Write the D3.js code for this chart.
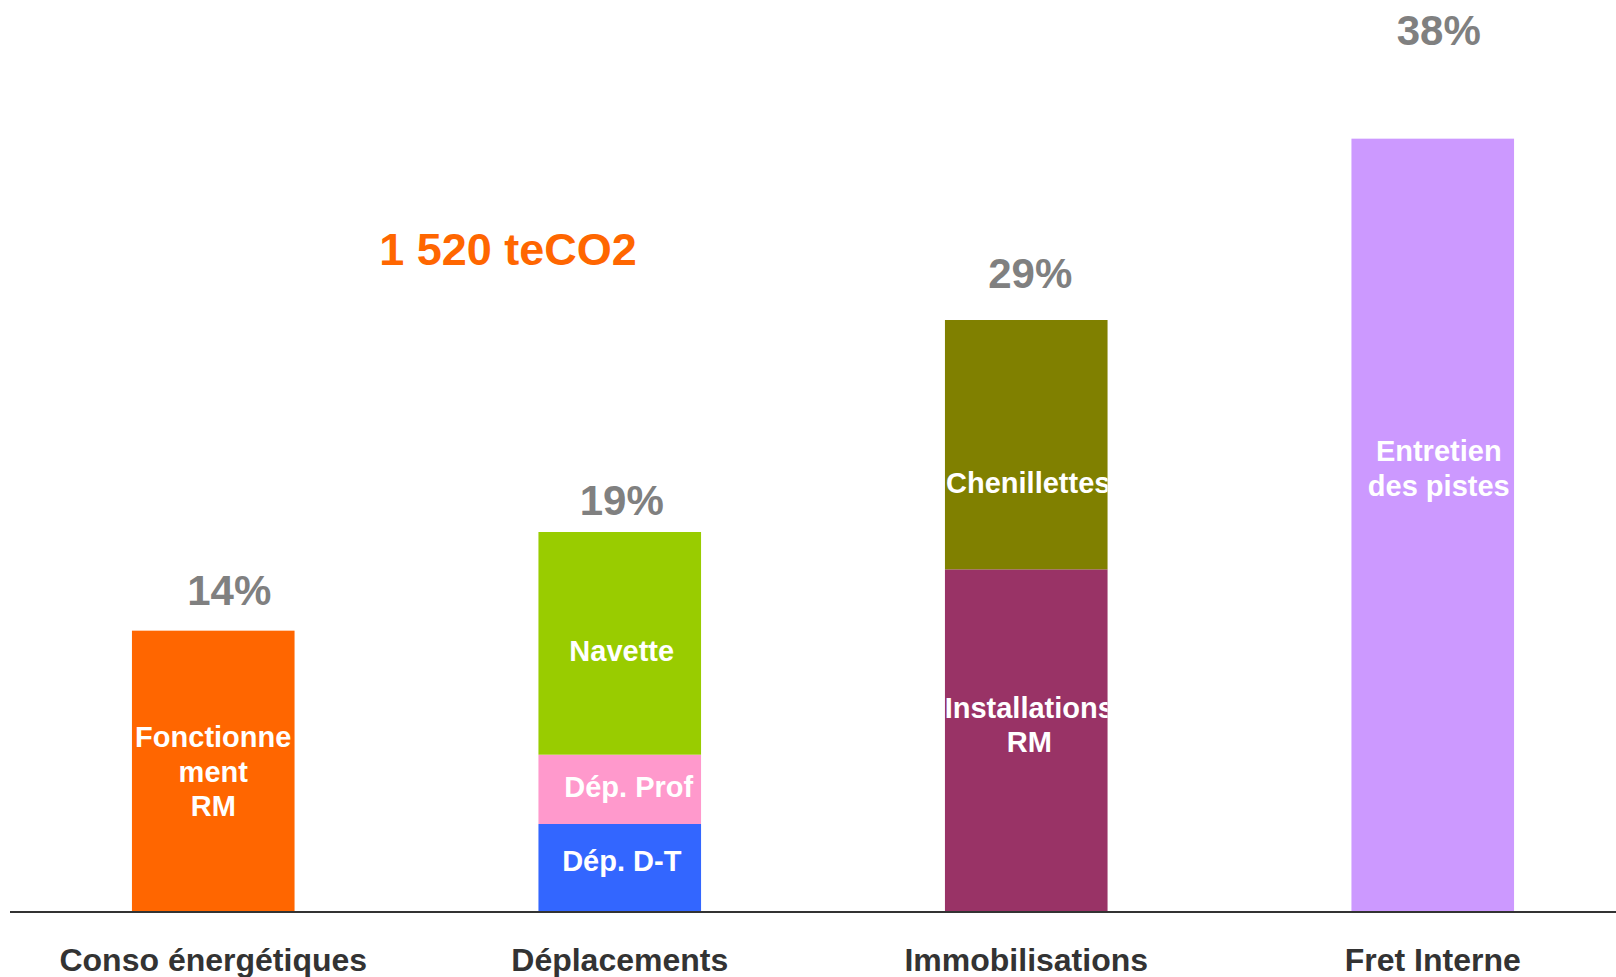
<!DOCTYPE html>
<html>
<head>
<meta charset="utf-8">
<script src="https://cdn.jsdelivr.net/npm/d3@7"></script>
<style>
  html, body { margin: 0; padding: 0; background: #ffffff; overflow: hidden; }
  svg { display: block; font-family: "Liberation Sans", Arial, Helvetica, sans-serif; font-weight: bold; }
</style>
</head>
<body>
<svg id="chart" width="1616" height="977"></svg>
<script>
// ---- Data (teCO2) ----
const categories = ["Conso énergétiques", "Déplacements", "Immobilisations", "Fret Interne"];
const segLabels = [
  ["Fonctionne", "ment", "RM"],
  ["Dép. D-T"],
  ["Dép. Prof"],
  ["Navette"],
  ["Installations", "RM"],
  ["Chenillettes"],
  ["Entretien", "des pistes"]
];
const segCategory = [0, 1, 1, 1, 2, 2, 3];
const segValues = [211, 66, 52, 167, 257, 187, 580];
const totalUnit = "teCO2";

// ---- Styles / layout (not data) ----
const segColors = ["#FF6600", "#3366FF", "#FF99CC", "#99CC00", "#993366", "#808000", "#CC99FF"];
const segLabelDx = [0, 2, 9, 2, 3, 2, 6];
const segLabelDy = [0, -7, -3, 7, -16, 38, -57];
const pctDx = [16, 2, 4, 6];
const pctDy = [-26, -17, -32, -94];

const W = 1616, H = 977;
const baseY = 912;
const svg = d3.select("#chart");

const x = d3.scaleBand().domain(categories).range([10, 1636]).paddingInner(0.6).paddingOuter(0.3);
const y = d3.scaleLinear().domain([0, 600]).range([baseY, baseY - 800]);

// stacking
const segs = [];
const acc = categories.map(() => 0);
segValues.forEach((v, i) => {
  const c = segCategory[i];
  segs.push({ i, cat: categories[c], y0: acc[c], y1: acc[c] + v, lines: segLabels[i] });
  acc[c] += v;
});
const total = d3.sum(segValues);

const defs = svg.append("defs");
segs.forEach(s => {
  defs.append("clipPath").attr("id", "clip" + s.i)
    .append("rect")
    .attr("x", x(s.cat)).attr("width", x.bandwidth())
    .attr("y", y(s.y1)).attr("height", y(s.y0) - y(s.y1));
});

// bars
svg.append("g").selectAll("rect").data(segs).join("rect")
  .attr("x", d => x(d.cat))
  .attr("width", x.bandwidth())
  .attr("y", d => y(d.y1))
  .attr("height", d => y(d.y0) - y(d.y1))
  .attr("fill", d => segColors[d.i]);

// segment labels
const fs = 29, lh = 34.5, capH = fs * 0.716;
const lab = svg.append("g").selectAll("g").data(segs).join("g")
  .attr("clip-path", d => `url(#clip${d.i})`);
lab.each(function(d) {
  const cx = x(d.cat) + x.bandwidth() / 2 + segLabelDx[d.i];
  const cy = (y(d.y0) + y(d.y1)) / 2 + segLabelDy[d.i];
  const n = d.lines.length;
  const blockH = capH + (n - 1) * lh;
  const firstBase = cy - blockH / 2 + capH;
  d3.select(this).selectAll("text").data(d.lines).join("text")
    .attr("x", cx)
    .attr("y", (t, k) => firstBase + k * lh)
    .attr("text-anchor", "middle")
    .attr("font-size", fs)
    .attr("fill", "#ffffff")
    .text(t => t);
});

// percentage labels
svg.append("g").selectAll("text").data(categories).join("text")
  .attr("x", (c, k) => x(c) + x.bandwidth() / 2 + pctDx[k])
  .attr("y", (c, k) => y(acc[k]) + pctDy[k])
  .attr("text-anchor", "middle")
  .attr("font-size", 42)
  .attr("fill", "#808080")
  .text((c, k) => Math.round(acc[k] / total * 100) + "%");

// baseline axis
const axis = d3.axisBottom(x).tickSize(0).tickPadding(0);
const gAxis = svg.append("g").attr("transform", `translate(0,${baseY})`).call(axis);
gAxis.select(".domain").attr("d", `M10,0H1616`).attr("stroke", "#333333").attr("stroke-width", 2);
gAxis.selectAll(".tick text")
  .attr("y", 59).attr("dy", 0)
  .attr("font-size", 32)
  .attr("font-family", "'Liberation Sans', Arial, sans-serif")
  .attr("font-weight", "bold")
  .attr("fill", "#333333");

// total annotation
const fmt = d3.formatLocale({ decimal: ",", thousands: " ", grouping: [3], currency: ["", ""] }).format(",d");
svg.append("text")
  .attr("x", 508).attr("y", 265)
  .attr("text-anchor", "middle")
  .attr("font-size", 45)
  .attr("fill", "#FF6600")
  .text(fmt(total) + " " + totalUnit);
</script>
</body>
</html>
